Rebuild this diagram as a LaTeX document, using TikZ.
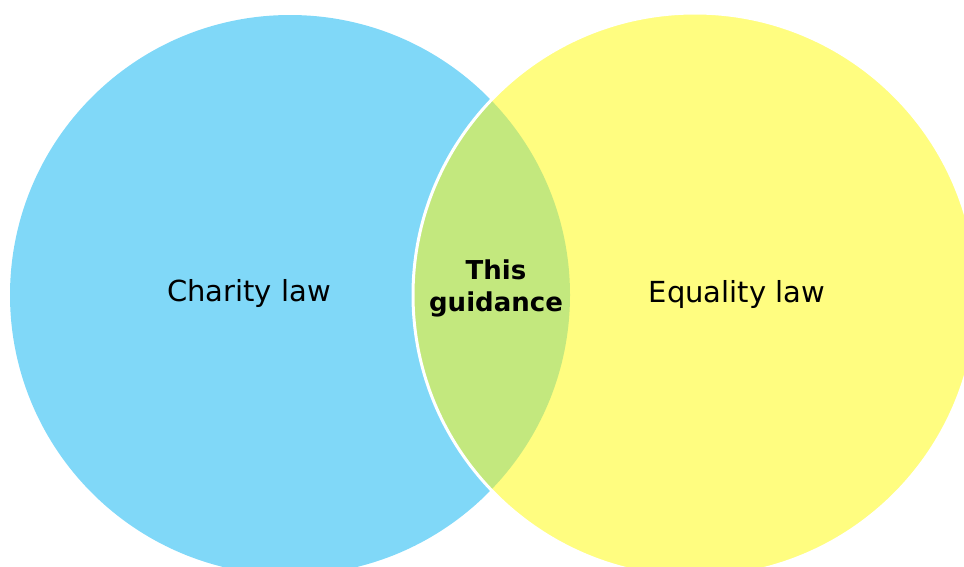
\documentclass[tikz,border=0pt]{standalone}
\usepackage{fontspec}
\setmainfont{DejaVu Sans}
\definecolor{charityblue}{RGB}{128,216,248}
\definecolor{equalityyellow}{RGB}{255,253,128}
\definecolor{overlapgreen}{RGB}{195,232,126}
\begin{document}
\begin{tikzpicture}[x=1pt,y=-1pt]
	\useasboundingbox (0,0) rectangle (964,566);
	\clip (0,0) rectangle (964,566);
	\coordinate (c1) at (290,295);
	\coordinate (c2) at (695,295);

	\fill[color=charityblue] (c1) circle (280);
	\fill[color=equalityyellow] (c2) circle (282);
	\begin{scope}
	\clip (c1) circle (280);
	\fill[color=overlapgreen] (c2) circle (282);
	\end{scope}
	\draw[color=white, line width=3pt] (c2) circle (282);

	\node[font=\fontsize{29}{32}\selectfont] (charity) at (249,293) {Charity law};
	\node[font=\fontsize{29}{32}\selectfont] (equality) at (737,294) {Equality law};
	\node[font=\fontsize{26}{32}\selectfont\bfseries, align=center] (guidance) at (496,288) {This\\guidance};
\end{tikzpicture}
\end{document}
